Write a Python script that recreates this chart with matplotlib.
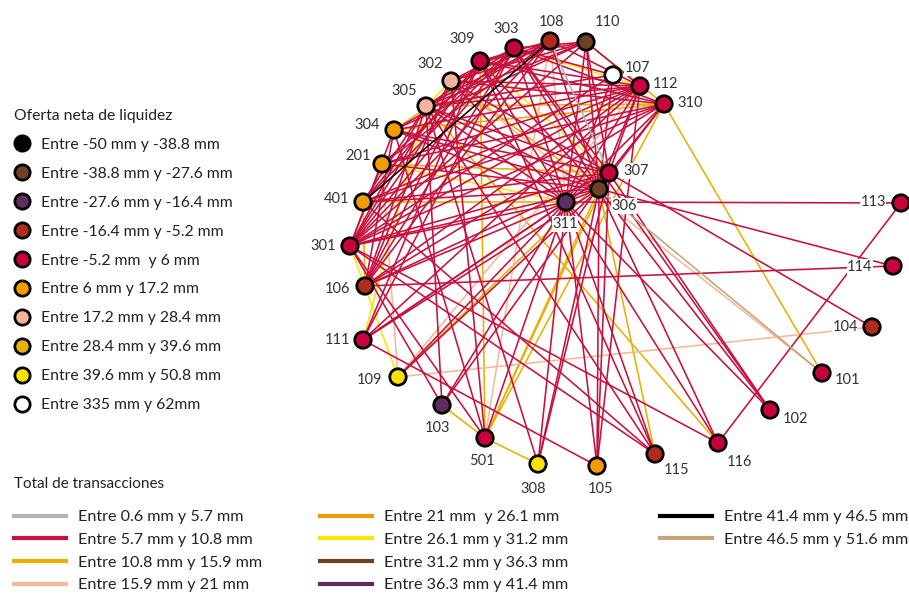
import matplotlib.pyplot as plt
from matplotlib.lines import Line2D
from matplotlib import font_manager

# nodes of the network (layout in picture pixels)
nodes = ['108', '110', '303', '309', '302', '305', '304', '201', '401', '301',
         '106', '111', '109', '103', '501', '308', '105', '115', '116', '102',
         '101', '104', '114', '113', '310', '112', '107', '307', '306', '311']
node_x = [550, 586, 514, 480, 451, 426, 394, 382, 363, 350,
          365, 363, 398, 442, 485, 538, 597, 655, 718, 770,
          822, 872, 893, 901, 664, 640, 613, 609, 599, 566]
node_y = [41, 42, 48, 61, 81, 106, 130, 164, 202, 246,
          286, 340, 377, 405, 438, 464, 466, 454, 443, 410,
          373, 327, 266, 203, 104, 86, 75, 173, 189, 202]
# index into liquidity classes
node_class = [3, 1, 4, 4, 6, 6, 5, 5, 5, 4,
              3, 4, 8, 2, 4, 8, 5, 3, 4, 4,
              4, 3, 4, 4, 4, 4, 9, 4, 1, 2]

liq_labels = ['Entre -50 mm y -38.8 mm', 'Entre -38.8 mm y -27.6 mm',
              'Entre -27.6 mm y -16.4 mm', 'Entre -16.4 mm y -5.2 mm',
              'Entre -5.2 mm  y 6 mm', 'Entre 6 mm y 17.2 mm',
              'Entre 17.2 mm y 28.4 mm', 'Entre 28.4 mm y 39.6 mm',
              'Entre 39.6 mm y 50.8 mm', 'Entre 335 mm y 62mm']
liq_colors = ['#000000', '#6B4226', '#5E2D62', '#B02A1E', '#C8003C',
              '#F39C00', '#F4B49C', '#E8B000', '#FFE000', '#FFFFFF']

tx_labels = ['Entre 0.6 mm y 5.7 mm', 'Entre 5.7 mm y 10.8 mm',
             'Entre 10.8 mm y 15.9 mm', 'Entre 15.9 mm y 21 mm',
             'Entre 21 mm  y 26.1 mm', 'Entre 26.1 mm y 31.2 mm',
             'Entre 31.2 mm y 36.3 mm', 'Entre 36.3 mm y 41.4 mm',
             'Entre 41.4 mm y 46.5 mm', 'Entre 46.5 mm y 51.6 mm']
tx_colors = ['#B3B3B3', '#C8103E', '#E8B000', '#F6B89B', '#F39A00',
             '#FFE600', '#6B4226', '#5E2D62', '#000000', '#C4A57A']

# edges per transaction class
edges_gold = ("501-309 501-307 501-310 501-306 103-501 501-308 310-101 304-310 "
              "305-310 201-307 110-310 106-401 115-306 116-305 109-307 302-306 "
              "401-311 304-303").split()
edges_yellow = "303-112 111-305 109-301 309-307 201-311 302-305".split()
edges_salmon = "109-104 302-101 109-201 501-108 108-311 109-112".split()
edges_crimson = (
    "301-303 301-309 301-302 301-305 301-304 301-201 301-108 301-110 301-112 "
    "301-310 301-307 301-306 301-311 301-107 "
    "106-303 106-309 106-305 106-304 106-108 106-112 106-310 106-307 106-311 "
    "106-114 106-302 "
    "111-309 111-303 111-307 111-306 111-311 111-105 111-112 "
    "305-303 305-108 305-110 305-107 305-112 305-307 305-306 305-311 "
    "302-303 302-108 302-110 302-112 302-310 302-307 302-311 "
    "309-108 309-110 309-112 309-310 309-306 309-311 "
    "303-110 303-107 303-310 303-307 303-306 303-311 "
    "304-108 304-110 304-112 304-307 304-306 304-311 "
    "201-108 201-112 201-310 201-306 201-303 "
    "401-303 401-309 401-112 401-310 401-307 401-306 401-305 "
    "108-306 108-112 110-306 110-307 110-311 110-112 "
    "112-306 112-311 112-307 310-307 310-306 310-311 107-306 107-311 "
    "307-311 306-311 "
    "103-311 103-307 103-301 103-305 501-301 501-304 501-311 501-302 "
    "308-311 308-307 308-306 308-305 105-307 105-306 105-311 105-112 "
    "115-301 115-401 115-305 115-311 115-309 116-113 116-311 116-306 116-301 "
    "102-307 102-306 102-311 102-303 104-307 114-306 113-311 109-311 109-306"
).split()
edges_gray = ["108-307"]
edges_black = ["401-108"]
edges_tan = ["306-101"]

edge_groups = [(edges_gold, 2), (edges_yellow, 5), (edges_salmon, 3),
               (edges_crimson, 1), (edges_gray, 0), (edges_black, 8),
               (edges_tan, 9)]

# label offsets (pixels) from node centre
label_off = {'108': (1, -19), '110': (21, -20), '303': (-8, -19), '309': (-18, -22),
             '302': (-21, -17), '305': (-22, -15), '304': (-27, -5), '201': (-24, -8),
             '401': (-26, -3), '301': (-27, 0), '106': (-27, 3), '111': (-26, 0),
             '109': (-29, 3), '103': (-5, 23), '501': (-3, 23), '308': (-5, 25),
             '105': (4, 23), '115': (22, 16), '116': (22, 19), '102': (25, 9),
             '101': (25, 7), '104': (-27, 0), '114': (-33, 1), '113': (-28, -1),
             '310': (26, -1), '112': (26, -2), '107': (24, -7), '307': (27, -2),
             '306': (25, 17), '311': (-1, 22)}

installed = {f.name for f in font_manager.fontManager.ttflist}
main_font = 'Lato' if 'Lato' in installed else 'DejaVu Sans'
plt.rcParams['font.family'] = [main_font, 'DejaVu Sans']

W, H = 909, 594
fig = plt.figure(figsize=(W / 100, H / 100), dpi=100)
ax = fig.add_axes([0, 0, 1, 1])
ax.set_xlim(0, W)
ax.set_ylim(H, 0)
ax.axis('off')

pos = {n: (x, y) for n, x, y in zip(nodes, node_x, node_y)}
for group, cls in edge_groups:
    for e in group:
        a, b = e.split('-')
        ax.plot([pos[a][0], pos[b][0]], [pos[a][1], pos[b][1]],
                color=tx_colors[cls], lw=1.15, zorder=1, solid_capstyle='round')

ax.scatter(node_x, node_y, s=140, c=[liq_colors[c] for c in node_class],
           edgecolors='black', linewidths=2.0, zorder=3)

for n in nodes:
    dx, dy = label_off[n]
    ax.text(pos[n][0] + dx, pos[n][1] + dy, n, ha='center', va='center',
            fontsize=10.5, color='#333333', zorder=4,
            bbox=dict(boxstyle='square,pad=0.05', fc='white', ec='none'))

# legend: node classes
liq_handles = [Line2D([], [], ls='', marker='o', markersize=11, mfc=c,
                      mec='black', mew=2.0) for c in liq_colors]
leg1 = fig.legend(liq_handles, liq_labels, title='Oferta neta de liquidez',
                  loc='upper left', bbox_to_anchor=(14 / W, 1 - 109 / H),
                  frameon=False, borderpad=0, borderaxespad=0,
                  handlelength=1.0, handletextpad=0.75, labelspacing=0.95,
                  fontsize=11.3, title_fontsize=11.3, alignment='left')
for t in leg1.get_texts():
    t.set_color('#222222')
leg1.get_title().set_color('#222222')

# legend: transactions, three columns
fig.text(14 / W, 1 - 484 / H, 'Total de transacciones', fontsize=11,
         color='#222222', va='center', ha='left')
cols = [(0, 4, 14), (4, 8, 320), (8, 10, 660)]
for i0, i1, x0 in cols:
    hs = [Line2D([], [], color=tx_colors[i], lw=3) for i in range(i0, i1)]
    leg = fig.legend(hs, tx_labels[i0:i1], loc='upper left',
                     bbox_to_anchor=(x0 / W, 1 - 510 / H), frameon=False,
                     borderpad=0, borderaxespad=0, handlelength=3.2,
                     handletextpad=0.8, labelspacing=0.52, fontsize=11.6)
    for t in leg.get_texts():
        t.set_color('#222222')

fig.savefig('out.png', dpi=100)
